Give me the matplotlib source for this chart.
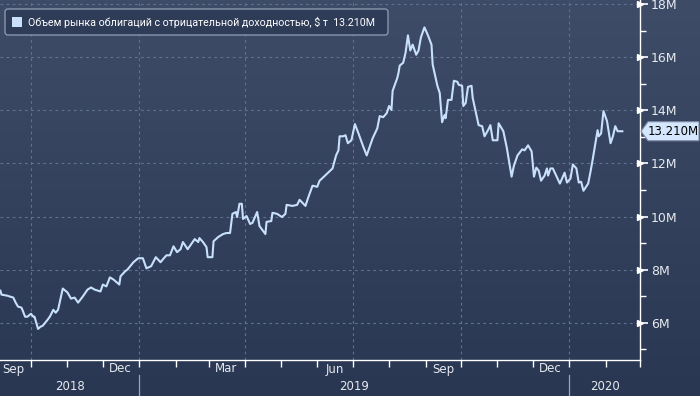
import numpy as np
import pandas as pd
import matplotlib
matplotlib.use("Agg")
import matplotlib.pyplot as plt
import matplotlib.dates as mdates
from matplotlib.patches import Polygon, FancyBboxPatch
from matplotlib.transforms import IdentityTransform

# --- data ($ trillions shown as "M" like the terminal) ---
dates = [
    "2018-09-05", "2018-09-06", "2018-09-11", "2018-09-13", "2018-09-16", "2018-09-18",
    "2018-09-20", "2018-09-23", "2018-09-26", "2018-09-28", "2018-10-01", "2018-10-03",
    "2018-10-04", "2018-10-07", "2018-10-09", "2018-10-11", "2018-10-15", "2018-10-17",
    "2018-10-20", "2018-10-22", "2018-10-24", "2018-10-28", "2018-11-01", "2018-11-04",
    "2018-11-07", "2018-11-10", "2018-11-14", "2018-11-18", "2018-11-21", "2018-11-24",
    "2018-11-29", "2018-12-01", "2018-12-04", "2018-12-07", "2018-12-10", "2018-12-15",
    "2018-12-16", "2018-12-20", "2018-12-22", "2018-12-27", "2018-12-31", "2019-01-04",
    "2019-01-07", "2019-01-11", "2019-01-15", "2019-01-19", "2019-01-21", "2019-01-24",
    "2019-01-27", "2019-01-30", "2019-02-02", "2019-02-05", "2019-02-07", "2019-02-11",
    "2019-02-17", "2019-02-20", "2019-02-21", "2019-02-24", "2019-02-27", "2019-02-28",
    "2019-03-04", "2019-03-05", "2019-03-09", "2019-03-13", "2019-03-16", "2019-03-19",
    "2019-03-21", "2019-03-24", "2019-03-25", "2019-03-27", "2019-03-29", "2019-03-30",
    "2019-04-02", "2019-04-05", "2019-04-07", "2019-04-11", "2019-04-13", "2019-04-18",
    "2019-04-19", "2019-04-23", "2019-04-24", "2019-04-28", "2019-05-02", "2019-05-05",
    "2019-05-06", "2019-05-11", "2019-05-15", "2019-05-17", "2019-05-22", "2019-05-24",
    "2019-05-28", "2019-06-01", "2019-06-03", "2019-06-05", "2019-06-14", "2019-06-17",
    "2019-06-19", "2019-06-20", "2019-06-23", "2019-06-25", "2019-06-27", "2019-06-30",
    "2019-07-03", "2019-07-06", "2019-07-10", "2019-07-13", "2019-07-18", "2019-07-22",
    "2019-07-24", "2019-07-27", "2019-07-30", "2019-08-01", "2019-08-03", "2019-08-04",
    "2019-08-08", "2019-08-09", "2019-08-10", "2019-08-13", "2019-08-15", "2019-08-17",
    "2019-08-19", "2019-08-21", "2019-08-24", "2019-08-26", "2019-08-28", "2019-08-31",
    "2019-09-03", "2019-09-06", "2019-09-07", "2019-09-11", "2019-09-13", "2019-09-15",
    "2019-09-17", "2019-09-18", "2019-09-20", "2019-09-23", "2019-09-25", "2019-09-28",
    "2019-09-29", "2019-10-02", "2019-10-03", "2019-10-05", "2019-10-07", "2019-10-10",
    "2019-10-11", "2019-10-16", "2019-10-19", "2019-10-21", "2019-10-24", "2019-10-26",
    "2019-10-28", "2019-11-01", "2019-11-02", "2019-11-05", "2019-11-06", "2019-11-09",
    "2019-11-13", "2019-11-15", "2019-11-18", "2019-11-22", "2019-11-24", "2019-11-27",
    "2019-11-30", "2019-12-02", "2019-12-04", "2019-12-06", "2019-12-08", "2019-12-11",
    "2019-12-13", "2019-12-14", "2019-12-16", "2019-12-18", "2019-12-22", "2019-12-24",
    "2019-12-28", "2019-12-30", "2020-01-02", "2020-01-04", "2020-01-07", "2020-01-09",
    "2020-01-11", "2020-01-13", "2020-01-17", "2020-01-19", "2020-01-21", "2020-01-25",
    "2020-01-26", "2020-01-28", "2020-01-30", "2020-02-02", "2020-02-05", "2020-02-07",
    "2020-02-09", "2020-02-11", "2020-02-15",
]
values = [
    7.21, 7.06, 7.02, 6.99, 6.95, 6.76, 6.61, 6.57, 6.23, 6.23, 6.34, 6.23,
    6.23, 5.77, 5.85, 5.89, 6.11, 6.23, 6.49, 6.38, 6.49, 7.29, 7.14, 6.91,
    6.95, 6.76, 6.99, 7.25, 7.33, 7.25, 7.18, 7.44, 7.37, 7.71, 7.63, 7.44,
    7.75, 7.94, 8.01, 8.28, 8.43, 8.43, 8.05, 8.13, 8.47, 8.28, 8.39, 8.54,
    8.54, 8.88, 8.66, 8.77, 9.04, 8.77, 9.15, 9.04, 9.19, 9.04, 8.85, 8.47,
    8.47, 9.07, 9.23, 9.34, 9.38, 9.38, 10.10, 10.17, 9.98, 10.48, 10.48, 9.91,
    10.02, 9.72, 9.76, 10.17, 9.64, 9.34, 9.80, 9.83, 10.14, 10.10, 9.98, 10.10,
    10.44, 10.40, 10.44, 10.63, 10.40, 10.67, 11.16, 11.12, 11.35, 11.43, 11.81, 12.30,
    12.49, 13.02, 13.02, 13.06, 12.76, 12.87, 13.48, 13.13, 12.64, 12.30, 12.94, 13.32,
    13.78, 13.74, 13.89, 14.16, 14.01, 14.73, 15.22, 15.41, 15.68, 15.79, 16.17, 16.82,
    16.25, 16.47, 16.09, 16.25, 16.74, 17.12, 16.82, 16.47, 15.72, 14.92, 14.65, 13.55,
    13.82, 13.70, 14.39, 14.39, 15.11, 15.07, 14.96, 14.92, 14.16, 14.27, 14.88, 14.92,
    14.46, 13.44, 13.40, 13.02, 13.25, 13.44, 12.87, 12.87, 13.51, 13.29, 13.21, 12.57,
    11.50, 11.92, 12.30, 12.53, 12.49, 12.68, 12.45, 11.50, 11.84, 11.73, 11.35, 11.54,
    11.81, 11.54, 11.81, 11.81, 11.43, 11.24, 11.65, 11.28, 11.43, 11.96, 11.81, 11.28,
    11.31, 10.97, 11.24, 11.69, 12.19, 13.25, 13.02, 13.13, 13.97, 13.59, 12.76, 13.02,
    13.40, 13.21, 13.21,
]

series_label = "Объем рынка облигаций с отрицательной доходностью, $ т"
y_ticks = [6, 8, 10, 12, 14, 16, 18]
y_minor = [5, 7, 9, 11, 13, 15, 17]
grid_dates = ["2018-10-01", "2019-01-01", "2019-04-01", "2019-07-01", "2019-10-01", "2020-01-01"]
month_labels = ["Sep", "Dec", "Mar", "Jun", "Sep", "Dec"]
month_label_dates = ["2018-09-16", "2018-12-16", "2019-03-16", "2019-06-16", "2019-09-16", "2019-12-16"]
year_labels = ["2018", "2019", "2020"]
year_bounds = ["2018-09-04T17:00", "2019-01-01T00:00", "2020-01-01T00:00", "2020-03-01T00:00"]

LINE = "#c8e0fb"
GRID = "#61728f"
TXT = "#e6e9ef"

x = pd.to_datetime(dates)
yb = pd.to_datetime(year_bounds)

fig = plt.figure(figsize=(7, 3.96), dpi=100)

# background gradient, lighter at the top
bg = fig.add_axes([0, 0, 1, 1])
grad = np.linspace(0, 1, 256).reshape(-1, 1)
top = np.array([62, 76, 104]) / 255
bot = np.array([41, 55, 82]) / 255
img = top + (bot - top) * grad[..., None]
bg.imshow(img, aspect="auto", extent=[0, 1, 0, 1])
bg.set_axis_off()

ax = fig.add_axes([0, 36 / 396, 640 / 700, 360 / 396])
ax.patch.set_alpha(0)

for yv in y_ticks:
    ax.axhline(yv, color=GRID, lw=0.8, ls=(0, (2.5, 3)), zorder=1)
for d in pd.to_datetime(grid_dates):
    ax.axvline(d, color=GRID, lw=0.8, ls=(0, (2.5, 3)), zorder=1)

ax.plot(x, values, color=LINE, lw=1.5, zorder=3, solid_joinstyle="round")

ax.set_xlim(yb[0], yb[-1])
ax.set_ylim(4.6, 18.15)

for s in ["top", "left"]:
    ax.spines[s].set_visible(False)
for s in ["right", "bottom"]:
    ax.spines[s].set_color("white")
    ax.spines[s].set_linewidth(1.0)

# right axis
ax.yaxis.tick_right()
ax.set_yticks(y_ticks)
ax.set_yticklabels([f"{v}M" for v in y_ticks])
ax.set_yticks(y_minor, minor=True)
ax.tick_params(axis="y", which="major", direction="out", length=6, width=1.2,
               colors="white", labelcolor=TXT, labelsize=9, pad=2)
ax.tick_params(axis="y", which="minor", direction="out", length=4, width=1,
               colors="white")
ax.plot(np.full(len(y_ticks), 1.0), y_ticks, ls="none", marker=">", ms=4,
        color="white", transform=ax.get_yaxis_transform(), clip_on=False)

# bottom axis: monthly ticks, labels centred on months
ax.xaxis.set_major_locator(mdates.MonthLocator())
ax.xaxis.set_major_formatter(plt.NullFormatter())
ax.tick_params(axis="x", which="major", direction="out", length=5, width=1,
               colors="white")

xt = ax.get_xaxis_transform()
for lab, d in zip(month_labels, pd.to_datetime(month_label_dates)):
    ax.text(d, -0.025, lab, transform=xt, ha="center", va="center",
            color=TXT, fontsize=8.5, clip_on=False)
for i, lab in enumerate(year_labels):
    mid = yb[i] + (yb[i + 1] - yb[i]) / 2
    ax.text(mid, -0.073, lab, transform=xt, ha="center", va="center",
            color=TXT, fontsize=8.5, clip_on=False)
for d in yb[1:3]:
    ax.plot([d, d], [-0.042, -0.1], transform=xt, color="#9aa5b8", lw=0.9,
            clip_on=False)

# legend box
ident = IdentityTransform()
fig.patches.append(FancyBboxPatch((5, 361), 383, 26, boxstyle="round,pad=0,rounding_size=3",
                                  transform=ident, facecolor="#2e3c58",
                                  edgecolor="#8a96aa", lw=1.0, figure=fig))
fig.patches.append(FancyBboxPatch((12, 369), 10, 10, boxstyle="square,pad=0",
                                  transform=ident, facecolor=LINE, edgecolor="none",
                                  figure=fig))
fig.text(28 / 700, 374 / 396, f"{series_label}  {values[-1]:.3f}M", color="white",
         fontsize=7.7, family=["Roboto", "DejaVu Sans"], va="center", ha="left")

# last value tag
fig.canvas.draw()
yd = ax.transData.transform((mdates.date2num(x[-1]), values[-1]))[1]
tag = Polygon([(641, yd), (648, yd + 9.5), (699, yd + 9.5), (699, yd - 9.5), (648, yd - 9.5)],
              closed=True, transform=ident, facecolor="#d4e7fd", edgecolor="#7f8da5",
              lw=0.8, figure=fig)
fig.patches.append(tag)
fig.text(673 / 700, yd / 396, f"{values[-1]:.3f}M", color="black", fontsize=8.5,
         ha="center", va="center")

fig.savefig("out.png", dpi=100)
